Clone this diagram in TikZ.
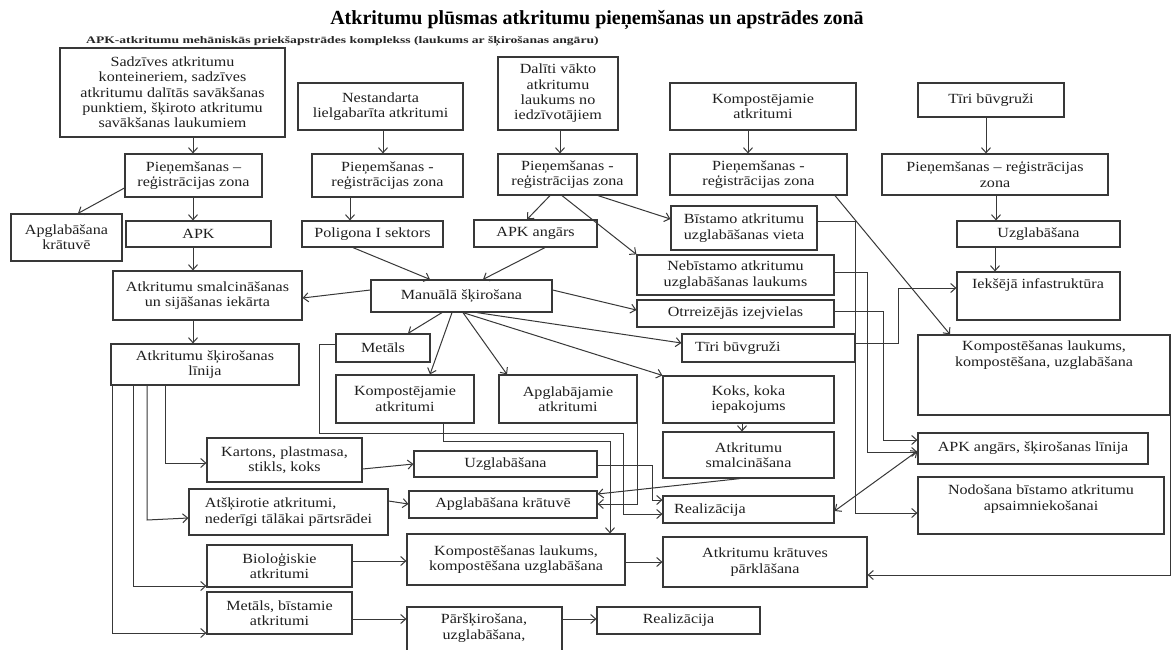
\documentclass[tikz,border=0pt]{standalone}
\usepackage{fontspec}
\setmainfont{Liberation Serif}[FakeStretch=1.15]
\newfontfamily\subfam{Liberation Serif}[FakeStretch=1.36]
\newfontfamily\titlefam{Liberation Serif}
\usetikzlibrary{arrows.meta}
\newcommand\bxfont{\fontsize{14}{15.3}\selectfont}
\newcommand\bx[7][]{\node[box,minimum width={#5-#3},minimum height={#6-#4},#1] (#2) at ({(#3+#5)/2},{(#4+#6)/2}) {#7};}
\begin{document}
\begin{tikzpicture}[x=1pt,y=-1pt,
  box/.style={draw=black!78,line width=1.2pt,inner sep=0pt,align=center,font=\bxfont,text=black!88},
  txt/.style={inner sep=0pt,align=center,font=\bxfont,text=black!88},
  arr/.style={draw=black!78,line width=1pt,-{Straight Barb[length=5pt,width=9pt]}},
  arrb/.style={draw=black!78,line width=1pt,{Straight Barb[length=5pt,width=9pt]}-{Straight Barb[length=5pt,width=9pt]}},
]
\fill[white] (0,0) rectangle (1173,649);
\useasboundingbox (0,0) rectangle (1173,649);

\node[font=\titlefam\fontsize{20}{22}\selectfont\bfseries,anchor=base,inner sep=0pt] (title) at (597,24) {Atkritumu plūsmas atkritumu pieņemšanas un apstrādes zonā};
\node[font=\subfam\fontsize{10}{12}\selectfont\bfseries,anchor=base west,inner sep=0pt,text=black!85] (sub) at (86,43) {APK-atkritumu mehāniskās priekšapstrādes komplekss (laukums ar šķirošanas angāru)};

% top row
\bx{sadz}{60}{48}{285}{137}{Sadzīves atkritumu\\konteineriem, sadzīves\\atkritumu dalītās savākšanas\\punktiem, šķiroto atkritumu\\savākšanas laukumiem}
\bx{nest}{298}{83}{463}{130}{Nestandarta\\lielgabarīta atkritumi}
\bx{dal}{498}{57}{618}{130}{Dalīti vākto\\atkritumu\\laukums no\\iedzīvotājiem}
\bx{komp}{670}{83}{856}{130}{Kompostējamie\\atkritumi}
\bx{tiri}{918}{83}{1064}{117}{Tīri būvgruži}
% reception
\bx{pr1}{125}{154}{262}{197}{Pieņemšanas –\\reģistrācijas zona}
\bx{pr2}{312}{154}{463}{197}{Pieņemšanas -\\reģistrācijas zona}
\bx{pr3}{498}{154}{637}{195}{Pieņemšanas -\\reģistrācijas zona}
\bx{pr4}{670}{154}{847}{195}{Pieņemšanas -\\reģistrācijas zona}
\bx{pr5}{882}{154}{1108}{195}{Pieņemšanas – reģistrācijas\\zona}
% third row
\bx{apglL}{11}{214}{122}{261}{Apglabāšana\\krātuvē}
\bx{apk}{126}{221}{271}{247}{APK}
\bx{polig}{302}{221}{443}{247}{Poligona I sektors}
\bx{apkang}{474}{220}{597}{247}{APK angārs}
\bx{bist}{671}{206}{817}{250}{Bīstamo atkritumu\\uzglabāšanas vieta}
\bx{uzgR}{957}{221}{1120}{247}{Uzglabāšana}
\bx{smalc}{113}{271}{302}{320}{Atkritumu smalcināšanas\\un sijāšanas iekārta}
\bx{man}{371}{280}{552}{312}{Manuālā šķirošana}
\bx{nebist}{637}{255}{834}{295}{Nebīstamo atkritumu\\uzglabāšanas laukums}
\bx{ieks}{957}{272}{1120}{320}{}
\node[txt] (ieks-t) at (1038,285) {Iekšējā infastruktūra};
\bx{otr}{637}{300}{834}{327}{Otrreizējās izejvielas}
\bx{met}{336}{334}{430}{362}{Metāls}
\bx{tiriM}{682}{334}{855}{362}{}
\node[txt,anchor=west] (tiriM-t) at (695,348) {Tīri būvgruži};
\bx{rkomp}{918}{335}{1170}{415}{}
\node[txt] (rkomp-t) at (1044,355) {Kompostēšanas laukums,\\kompostēšana, uzglabāšana};
\bx{sklin}{111}{344}{299}{385}{Atkritumu šķirošanas\\līnija}
\bx{kompM}{336}{375}{474}{423}{Kompostējamie\\atkritumi}
\bx{apglj}{499}{375}{637}{423}{Apglabājamie\\atkritumi}
\bx{koks}{663}{376}{834}{423}{Koks, koka\\iepakojums}
\bx{smalcK}{663}{432}{834}{478}{Atkritumu\\smalcināšana}
\bx{kart}{207}{438}{362}{482}{Kartons, plastmasa,\\stikls, koks}
\bx{uzgM}{414}{451}{597}{477}{Uzglabāšana}
\bx{apkS}{918}{433}{1148}{464}{APK angārs, šķirošanas līnija}
\bx[align=left]{atsk}{189}{489}{388}{535}{Atšķirotie atkritumi,\\nederīgi tālākai pārtsrādei}
\bx{apglK}{409}{491}{597}{518}{Apglabāšana krātuvē}
\bx{realM}{663}{496}{834}{523}{}
\node[txt,anchor=west] (realM-t) at (674,510) {Realizācija};
\bx{nodos}{918}{477}{1164}{534}{}
\node[txt] (nodos-t) at (1041,499) {Nodošana bīstamo atkritumu\\apsaimniekošanai};
\bx{bio}{207}{545}{352}{587}{Bioloģiskie\\atkritumi}
\bx{kompMid}{407}{534}{625}{585}{Kompostēšanas laukums,\\kompostēšana uzglabāšana}
\bx{parkl}{663}{537}{867}{587}{Atkritumu krātuves\\pārklāšana}
\bx{metb}{207}{592}{352}{634}{Metāls, bīstamie\\atkritumi}
\bx{parsk}{407}{607}{562}{672}{}
\node[txt] (parsk-t) at (484,628) {Pāršķirošana,\\uzglabāšana,};
\bx{realB}{597}{607}{760}{634}{Realizācija}

% connectors
\draw[arr] (sadz.south -| 193,0) -- (pr1.north -| 193,0);
\draw[arr] (pr1.south -| 193,0) -- (apk.north -| 193,0);
\draw[arr] (apk.south -| 193,0) -- (smalc.north -| 193,0);
\draw[arr] (smalc.south -| 193,0) -- (sklin.north -| 193,0);
\draw[arr] (pr1.west |- 0,188) -- (apglL.north -| 78,0);
\draw[arr] (nest.south -| 383,0) -- (pr2.north -| 383,0);
\draw[arr] (pr2.south -| 350,0) -- (polig.north -| 350,0);
\draw[arr] (dal.south -| 560,0) -- (pr3.north -| 560,0);
\draw[arr] (pr3.south -| 550,0) -- (apkang.north -| 527,0);
\draw[arr] (pr3.south -| 562,0) -- (nebist.north west);
\draw[arr] (pr3.south -| 598,0) -- (bist.west |- 0,219);
\draw[arr] (komp.south -| 748,0) -- (pr4.north -| 748,0);
\draw[arr] (pr4.south -| 835,0) -- (rkomp.north -| 950,0);
\draw[arr] (tiri.south -| 986,0) -- (pr5.north -| 986,0);
\draw[arr] (pr5.south -| 996,0) -- (uzgR.north -| 996,0);
\draw[arr] (uzgR.south -| 995,0) -- (ieks.north -| 995,0);
\draw[arr] (polig.south -| 353,0) -- (man.north -| 430,0);
\draw[arr] (apkang.south -| 545,0) -- (man.north -| 483,0);
\draw[arr] (man.west |- 0,290) -- (smalc.east |- 0,298);
\draw[arr] (man.east |- 0,290) -- (otr.west |- 0,310);
\draw[arr] (man.south -| 477,0) -- (tiriM.west |- 0,343);
\draw[arr] (man.south -| 463,0) -- (koks.north west);
\draw[arr] (man.south -| 463,0) -- (apglj.north -| 507,0);
\draw[arr] (man.south -| 452,0) -- (kompM.north -| 430,0);
\draw[arr] (man.south -| 442,0) -- (met.north -| 408,0);
\draw[arr] (bist.east |- 0,221) -| (855,513) -- (nodos.west |- 0,513);
\draw[arr] (nebist.east |- 0,272) -| (867,452) -- (apkS.west |- 0,452);
\draw[arr] (otr.east |- 0,311) -| (883,440) -- (apkS.west |- 0,440);
\draw[arr] (tiriM.east |- 0,343) -| (898,288) -- (ieks.west |- 0,288);
\draw[arr] (rkomp.south east) |- (parkl.east |- 0,575);
\draw[arrb] (apkS.west |- 0,451) -- (realM.east |- 0,511);
\draw[arr] (koks.south -| 742,0) -- (smalcK.north -| 742,0);
\draw[arr] (smalcK.south -| 740,0) -- (apglK.east |- 0,494);
\draw[arr] (apglj.south east) |- (apglK.east |- 0,504);
\draw[arr] (met.west |- 0,344) -| (319,433) -| (623,514) -- (realM.west |- 0,514);
\draw[arr] (kompM.south -| 443,0) |- (610,441) -- (kompMid.north -| 610,0);
\draw[arr] (uzgM.east |- 0,465) -| (652,500) -- (realM.west |- 0,500);
\draw[arr] (kart.east |- 0,469) -- (uzgM.west |- 0,464);
\draw[arr] (atsk.east |- 0,501) -- (apglK.west |- 0,504);
\draw[arr] (sklin.south -| 165,0) |- (kart.west |- 0,463);
\draw[arr] (sklin.south -| 147,0) -- (147,520) -- (atsk.west |- 0,518);
\draw[arr] (sklin.south -| 133,0) |- (bio.west |- 0,586);
\draw[arr] (sklin.south -| 112,0) |- (metb.west |- 0,633);
\draw[arr] (bio.east |- 0,561) -- (kompMid.west |- 0,561);
\draw[arr] (metb.east |- 0,619) -- (parsk.west |- 0,619);
\draw[arr] (parsk.east |- 0,619) -- (realB.west |- 0,619);
\draw[arr] (kompMid.east |- 0,562) -- (parkl.west |- 0,562);
\end{tikzpicture}
\end{document}
